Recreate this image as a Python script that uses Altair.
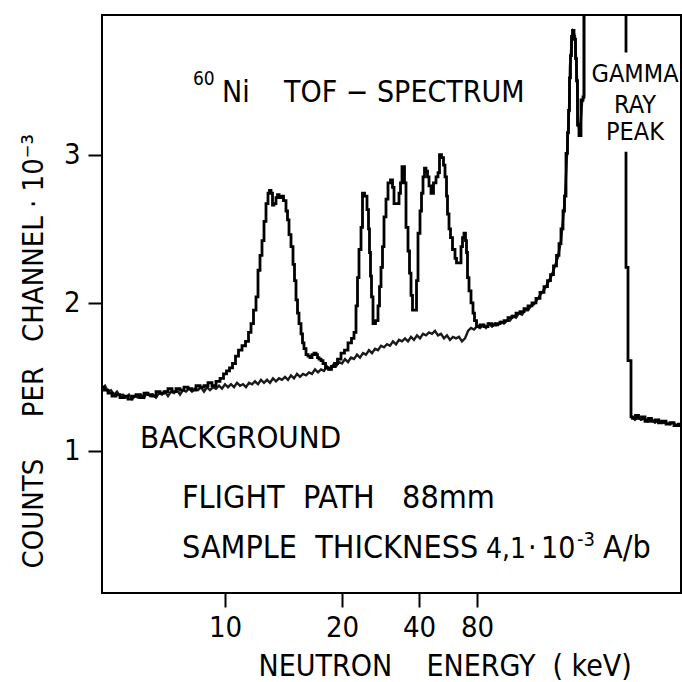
import altair as alt
import pandas as pd

# ---------------- data: (time-of-flight channel, counts per channel / 1000)
# 60Ni sample spectrum, main part (goes off scale at the top before the gamma ray peak)
SAMPLE_MAIN = [
    (0, 1.43), (4, 1.41), (8, 1.39), (12, 1.37), (16, 1.38), (20, 1.36), (24, 1.37), (28, 1.35), (32, 1.37),
    (36, 1.38), (40, 1.36), (44, 1.39), (48, 1.38), (52, 1.37), (56, 1.40), (60, 1.39), (64, 1.40), (68, 1.42),
    (72, 1.40), (76, 1.42), (80, 1.41), (84, 1.43), (88, 1.42), (92, 1.41), (96, 1.44), (100, 1.43), (104, 1.44),
    (108, 1.46), (112, 1.44), (116, 1.47), (120, 1.49), (123, 1.52), (126, 1.54), (129, 1.56), (132, 1.59),
    (135, 1.64), (138, 1.68), (142, 1.71), (145, 1.74), (148, 1.80), (150, 1.86), (153, 1.95), (155, 2.04),
    (157, 2.22), (159, 2.32), (161, 2.42), (163, 2.55), (165, 2.67), (167, 2.74), (168, 2.76), (170, 2.74),
    (171, 2.66), (173, 2.67), (175, 2.71), (176, 2.73), (178, 2.71), (180, 2.72), (183, 2.69), (185, 2.62),
    (186, 2.56), (188, 2.46), (190, 2.38), (192, 2.26), (193, 2.15), (195, 2.02), (196, 1.93), (198, 1.86),
    (200, 1.79), (201, 1.73), (203, 1.69), (205, 1.65), (207, 1.64), (209, 1.63), (211, 1.65), (213, 1.66),
    (215, 1.65), (216, 1.63), (218, 1.62), (220, 1.61), (222, 1.59), (225, 1.56), (228, 1.55), (231, 1.57),
    (234, 1.59), (237, 1.62), (241, 1.66), (244, 1.68), (248, 1.73), (251, 1.76), (253, 1.80), (255, 1.98),
    (256, 2.17), (258, 2.36), (260, 2.51), (261, 2.74), (264, 2.72), (266, 2.63), (267, 2.50), (268, 2.34),
    (269, 2.18), (270, 2.04), (272, 1.86), (275, 1.88), (277, 1.98), (278, 2.11), (280, 2.24), (281, 2.38),
    (283, 2.58), (285, 2.70), (287, 2.81), (290, 2.83), (291, 2.78), (293, 2.67), (296, 2.67), (298, 2.74),
    (299, 2.81), (301, 2.92), (302, 2.92), (303, 2.81), (305, 2.51), (307, 2.35), (308, 2.20), (310, 2.05),
    (311, 1.95), (314, 1.95), (315, 2.15), (317, 2.47), (319, 2.62), (320, 2.74), (322, 2.85), (323, 2.91),
    (325, 2.89), (326, 2.85), (328, 2.79), (330, 2.74), (333, 2.81), (335, 2.85), (337, 2.88), (338, 3.00),
    (341, 2.98), (342, 2.93), (344, 2.85), (345, 2.72), (346, 2.60), (348, 2.50), (349, 2.44), (352, 2.36),
    (354, 2.30), (355, 2.27), (358, 2.27), (360, 2.38), (361, 2.44), (363, 2.47), (364, 2.42), (365, 2.34),
    (366, 2.17), (368, 2.08), (370, 2.00), (372, 1.93), (373, 1.88), (376, 1.84), (380, 1.85), (384, 1.84),
    (388, 1.86), (392, 1.85), (396, 1.86), (400, 1.87), (404, 1.88), (408, 1.90), (412, 1.91), (416, 1.93),
    (420, 1.94), (424, 1.96), (428, 1.98), (432, 2.00), (436, 2.03), (440, 2.07), (444, 2.11), (447, 2.15),
    (450, 2.19), (453, 2.25), (456, 2.32), (458, 2.40), (460, 2.50), (462, 2.62), (463, 2.72), (465, 3.01),
    (466, 3.15), (467, 3.30), (468, 3.52), (469, 3.67), (470, 3.80), (471, 3.84), (473, 3.78), (474, 3.65),
    (475, 3.50), (476, 3.20), (478, 3.13), (480, 3.37), (482, 3.39), (482, 4.60), (524, 4.60), (524, 3.69),
]
# gamma ray peak tail and flat part after it
SAMPLE_GAMMA = [
    (524, 3.02), (524, 2.24), (526, 2.24), (526, 1.61), (529, 1.61), (529, 1.23), (532, 1.22), (535, 1.24),
    (538, 1.22), (541, 1.23), (545, 1.20), (548, 1.22), (551, 1.20), (555, 1.21), (558, 1.19), (562, 1.20),
    (566, 1.18), (570, 1.19), (574, 1.17), (578, 1.18), (579, 1.17),
]
# background run
BACK_MAIN = [
    (0, 1.42), (3, 1.44), (6, 1.40), (9, 1.41), (12, 1.38), (15, 1.40), (18, 1.37), (21, 1.38), (24, 1.36),
    (27, 1.38), (30, 1.35), (33, 1.37), (36, 1.36), (39, 1.38), (42, 1.36), (45, 1.39), (48, 1.37), (51, 1.38),
    (54, 1.36), (57, 1.39), (60, 1.38), (63, 1.40), (66, 1.37), (69, 1.40), (72, 1.39), (75, 1.41), (78, 1.38),
    (81, 1.41), (84, 1.40), (87, 1.42), (90, 1.40), (93, 1.42), (96, 1.41), (99, 1.43), (102, 1.40), (105, 1.43),
    (108, 1.41), (111, 1.43), (114, 1.42), (117, 1.44), (120, 1.42), (123, 1.45), (126, 1.43), (129, 1.45),
    (132, 1.43), (135, 1.46), (138, 1.44), (141, 1.45), (144, 1.43), (147, 1.46), (150, 1.45), (153, 1.47),
    (156, 1.45), (159, 1.48), (162, 1.46), (165, 1.48), (168, 1.46), (171, 1.49), (174, 1.47), (177, 1.49),
    (180, 1.48), (183, 1.50), (186, 1.48), (189, 1.51), (192, 1.49), (195, 1.52), (198, 1.50), (201, 1.52),
    (204, 1.51), (207, 1.53), (210, 1.52), (213, 1.55), (216, 1.53), (219, 1.55), (222, 1.54), (225, 1.57),
    (228, 1.55), (231, 1.58), (234, 1.57), (237, 1.60), (240, 1.59), (243, 1.62), (246, 1.60), (249, 1.63),
    (252, 1.62), (255, 1.65), (258, 1.63), (261, 1.66), (264, 1.65), (267, 1.68), (270, 1.66), (273, 1.69),
    (276, 1.68), (279, 1.71), (282, 1.70), (285, 1.72), (288, 1.71), (291, 1.74), (294, 1.72), (297, 1.75),
    (300, 1.74), (303, 1.76), (306, 1.74), (309, 1.77), (312, 1.75), (315, 1.78), (318, 1.76), (321, 1.79),
    (324, 1.78), (327, 1.80), (330, 1.79), (333, 1.81), (336, 1.78), (339, 1.79), (342, 1.76), (345, 1.78),
    (348, 1.75), (351, 1.77), (354, 1.76), (357, 1.77), (360, 1.74), (363, 1.76), (366, 1.81), (369, 1.83),
    (372, 1.82), (375, 1.84), (378, 1.83), (381, 1.85), (384, 1.83), (387, 1.86), (390, 1.84), (393, 1.86),
    (396, 1.85), (399, 1.87), (402, 1.86), (405, 1.88), (408, 1.88), (411, 1.91), (414, 1.90), (417, 1.93),
    (420, 1.92), (423, 1.95), (426, 1.95), (429, 1.98), (432, 1.99), (435, 2.02), (438, 2.05), (441, 2.08),
    (444, 2.11), (447, 2.15), (450, 2.19), (453, 2.25), (456, 2.31), (459, 2.42), (461, 2.56), (463, 2.72),
    (465, 3.00), (467, 3.29), (468, 3.60), (470, 3.79), (471, 3.83), (473, 3.80), (475, 3.52), (476, 3.22),
    (478, 3.14), (480, 3.35), (482, 3.40), (482, 4.60),
]
BACK_TAIL = [
    (530, 1.23), (533, 1.21), (536, 1.23), (539, 1.21), (543, 1.22), (546, 1.20), (550, 1.21), (553, 1.19),
    (557, 1.21), (560, 1.19), (564, 1.19), (568, 1.18), (571, 1.19), (575, 1.17), (579, 1.18),
]

X_TICK_CH = [123, 240, 317, 375]
X_TICK_LABELS = ["10", "20", "40", "80"]
Y_TICKS = [1, 2, 3]

NB = "\u00a0"
NOTE_TEXT = ["60", "Ni" + NB * 4 + "TOF" + NB + "\u2212" + NB + "SPECTRUM", "BACKGROUND",
             "FLIGHT" + NB * 2 + "PATH" + NB * 3 + "88mm",
             "SAMPLE" + NB * 2 + "THICKNESS", "4,1", "\u00b7", "10", "-3", "A/b"]
NOTE_CH = [91, 120, 38, 80, 80, 384, 426, 439, 475, 501]
NOTE_VAL = [3.471, 3.356, 1.018, 0.613, 0.275, 0.275, 0.275, 0.275, 0.356, 0.275]
NOTE_SIZE = [19, 30, 31, 32, 32, 28, 30, 30, 20, 32]

GAMMA_TEXT = ["GAMMA", "RAY", "PEAK"]
GAMMA_CH = [533, 533, 533]
GAMMA_VAL = [3.491, 3.282, 3.099]

FONT = "'DejaVu Sans Condensed', 'DejaVu Sans', sans-serif"


def frame(segments):
    rows = []
    for s, seg in enumerate(segments):
        for c, v in seg:
            rows.append({"ch": c, "val": v, "seg": s, "idx": len(rows)})
    return pd.DataFrame(rows)


sample = frame([SAMPLE_MAIN, SAMPLE_GAMMA])
back = frame([BACK_MAIN, BACK_TAIL])
notes = pd.DataFrame({"t": NOTE_TEXT, "ch": NOTE_CH, "val": NOTE_VAL, "size": NOTE_SIZE})
gamma = pd.DataFrame({"t": GAMMA_TEXT, "ch": GAMMA_CH, "val": GAMMA_VAL})

x_scale = alt.Scale(domain=[0, 579], nice=False, zero=False)
y_scale = alt.Scale(domain=[0.04, 3.944], nice=False, zero=False)

label_expr = " : ".join(f"datum.value == {c} ? '{l}'" for c, l in zip(X_TICK_CH, X_TICK_LABELS)) + " : ''"

x_axis = alt.Axis(values=X_TICK_CH, labelExpr=label_expr,
                  title="NEUTRON" + NB * 4 + "ENERGY" + NB * 2 + "(" + NB + "keV)",
                  grid=False, domain=False, tickSize=14, tickWidth=2, labelPadding=6,
                  labelFontSize=29, titleFontSize=30, titleFontWeight="normal",
                  titleX=156, titleY=82, titleBaseline="alphabetic", titleAlign="left",
                  labelFlush=False)
y_axis = alt.Axis(values=Y_TICKS, format="d",
                  title="COUNTS" + NB * 5 + "PER" + NB * 3 + "CHANNEL" + NB + "\u00b7" + NB + "10\u207b\u00b3",
                  grid=False, domain=False, tickSize=14, tickWidth=2, labelPadding=8,
                  labelFontSize=29, titleFontSize=29, titleFontWeight="normal",
                  titleX=-60, titleY=553, titleAngle=270, titleBaseline="alphabetic", titleAlign="left",
                  labelFlush=False)

X = alt.X("ch:Q", scale=x_scale, axis=x_axis)
Y = alt.Y("val:Q", scale=y_scale, axis=y_axis)

back_line = alt.Chart(back).mark_line(color="#1a1a1a", strokeWidth=2.4, clip=True).encode(
    x=X, y=Y, detail="seg:N", order="idx:Q")
sample_line = alt.Chart(sample).mark_line(color="black", strokeWidth=2.8, clip=True,
                                           interpolate="step").encode(
    x=X, y=Y, detail="seg:N", order="idx:Q")

note_text = alt.Chart(notes).mark_text(font=FONT, align="left", baseline="alphabetic",
                                       color="black").encode(
    x=alt.X("ch:Q", scale=x_scale), y=alt.Y("val:Q", scale=y_scale), text="t:N",
    size=alt.Size("size:Q", scale=None, legend=None))
gamma_text = alt.Chart(gamma).mark_text(font=FONT, fontSize=25, align="center", baseline="alphabetic",
                                        color="black").encode(
    x=alt.X("ch:Q", scale=x_scale), y=alt.Y("val:Q", scale=y_scale), text="t:N")

chart = alt.layer(back_line, sample_line, note_text, gamma_text).properties(
    width=579, height=578,
    padding={"left": 102, "top": 15, "right": 1, "bottom": 89},
    autosize=alt.AutoSizeParams(type="none"),
    background="white",
).configure_view(stroke="black", strokeWidth=2).configure_axis(
    labelFont=FONT, titleFont=FONT, labelColor="black", titleColor="black", tickColor="black")

chart.save("out.html", embed_options={"renderer": "svg", "actions": False})
